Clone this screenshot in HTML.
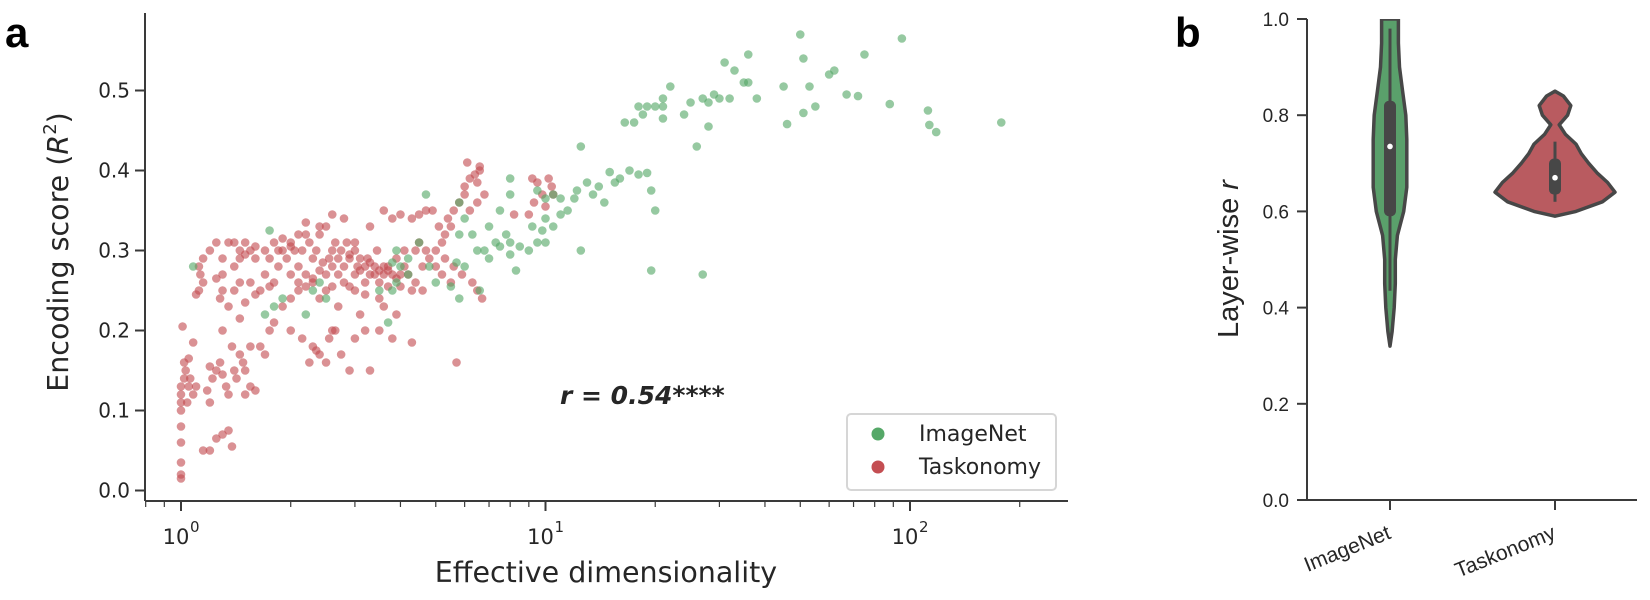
<!DOCTYPE html>
<html><head><meta charset="utf-8">
<style>
html,body{margin:0;padding:0;background:#fff;}
svg{display:block;font-family:"DejaVu Sans","Liberation Sans",sans-serif;}
</style></head>
<body>
<svg id="fig" width="1650" height="600" viewBox="0 0 1650 600" xmlns="http://www.w3.org/2000/svg"></svg>
<script>
// ---------- Panel a data ----------
const imagenetDims = [50,95,36,75,31,33,51,60,62,22,29,35,36,45,67,72,53,27,30,28,32,38,25,19,18,18.5,20,21,21,21,24,16.5,17.5,28,46,51,55,88,112,113,118,178,26,12.5,
17,15,16,18,19,15.5,13,14,12.2,12,11,10,10.5,9.5,13.5,14.5,19.5,20,11.5,11,10,10.5,9.2,9.8,8,8,7.5,7,7.8,8,7.5,6.8,7,8.5,9,9.5,10,8,7.3,8.3,12.5,19.5,27,5.8,6.3,6,5.8,4.7,6.5,6,5.7,6.6,5.8,5.5,5,4.8,4.5,4.2,3.9,3.8,3.9,4,4.2,3.8,3.7,3.5,2.4,2.3,2.5,2.2,1.9,1.75,1.8,1.7,1.08];
const imagenetScores = [0.57,0.565,0.545,0.545,0.535,0.525,0.54,0.52,0.525,0.505,0.495,0.51,0.51,0.505,0.495,0.493,0.505,0.49,0.49,0.485,0.49,0.49,0.485,0.48,0.48,0.47,0.48,0.48,0.465,0.49,0.47,0.46,0.46,0.455,0.458,0.472,0.48,0.483,0.475,0.457,0.448,0.46,0.43,0.43,
0.4,0.398,0.39,0.395,0.397,0.385,0.385,0.38,0.375,0.365,0.365,0.365,0.37,0.375,0.37,0.36,0.375,0.35,0.35,0.345,0.34,0.33,0.33,0.325,0.37,0.39,0.35,0.33,0.32,0.31,0.305,0.3,0.29,0.305,0.3,0.31,0.31,0.295,0.31,0.275,0.3,0.275,0.27,0.32,0.32,0.34,0.36,0.37,0.3,0.28,0.285,0.25,0.24,0.255,0.26,0.28,0.31,0.29,0.3,0.285,0.26,0.28,0.27,0.25,0.21,0.25,0.26,0.25,0.24,0.22,0.24,0.325,0.23,0.22,0.28];
const taskonomyDims = [1,1,1,1,1,1,1,1,1,1.02,1.03,1.02,1.01,1.04,1.05,1.06,1.08,1.1,1.05,1.08,1.1,1.12,1.13,1.15,1.12,1.15,1.2,1.25,1.3,1.3,1.28,1.35,1.4,1.4,1.45,1.5,1.55,1.5,1.6,1.35,1.15,1.2,1.25,1.3,1.35,1.38,1.2,1.22,1.25,1.3,1.33,1.35,1.4,1.45,1.48,1.5,1.28,1.42,1.5,1.55,1.6,1.38,1.45,1.55,1.65,1.3,1.2,1.18,
1.7,1.75,1.8,1.85,1.9,1.95,2.0,2.05,2.1,2.15,2.2,2.25,2.3,2.35,2.4,2.5,2.6,2.7,2.8,2.9,3.0,3.1,3.2,3.3,3.4,3.5,3.6,3.7,3.8,3.9,4.0,4.1,4.2,4.4,4.6,4.8,5.0,5.2,5.5,5.8,6.0,6.2,6.4,6.6,6.5,6.0,5.6,5.3,4.9,4.7,4.5,4.3,4.0,3.8,3.6,3.3,3.0,2.8,2.6,2.4,2.2,2.1,2.0,1.9,1.85,1.8,1.75,1.7,1.65,1.6,1.55,1.5,1.45,1.6,2.0,2.1,2.2,2.3,2.4,2.5,2.6,2.7,2.8,3.0,3.2,3.4,3.6,3.9,4.1,4.4,4.7,5.0,5.2,5.5,4.6,4.3,4.0,3.7,3.5,3.2,3.0,2.9,2.6,2.5,2.3,2.2,2.0,1.9,1.8,2.0,2.15,2.3,2.25,2.35,2.4,2.5,2.55,2.6,2.65,2.75,2.9,3.0,3.2,3.3,3.5,3.8,4.3,5.7,3.9,3.6,3.1,2.7,2.4,2.1,1.75,1.7,4.5,5.1,5.4,6.2,6.5,6.8,6.5,6.7,6.3,5.9,5.6,5.3,9.2,9.5,9.8,10.2,10.5,10.0,9.3,9.0,8.2,10.4,6.6,6.1,1.25,1.3,1.4,1.45,2.9,3.1,3.3,3.5,3.7,2.45,2.55,2.65,2.75,2.85,3.05,3.25,3.45];
const taskonomyScores = [0.015,0.02,0.035,0.06,0.08,0.1,0.11,0.12,0.13,0.14,0.15,0.16,0.205,0.11,0.13,0.14,0.12,0.13,0.165,0.185,0.245,0.25,0.27,0.26,0.28,0.29,0.3,0.265,0.27,0.25,0.24,0.23,0.25,0.31,0.3,0.295,0.3,0.31,0.305,0.31,0.05,0.05,0.065,0.07,0.075,0.055,0.11,0.14,0.15,0.145,0.13,0.12,0.15,0.17,0.16,0.15,0.16,0.14,0.12,0.13,0.125,0.18,0.215,0.18,0.18,0.2,0.155,0.125,
0.3,0.29,0.31,0.3,0.3,0.29,0.31,0.3,0.28,0.3,0.32,0.31,0.29,0.3,0.32,0.33,0.3,0.29,0.28,0.29,0.3,0.29,0.28,0.27,0.28,0.26,0.27,0.28,0.27,0.265,0.27,0.28,0.27,0.26,0.28,0.29,0.3,0.31,0.33,0.36,0.37,0.39,0.395,0.4,0.385,0.38,0.35,0.32,0.35,0.35,0.345,0.34,0.345,0.34,0.35,0.33,0.31,0.34,0.345,0.33,0.335,0.32,0.305,0.315,0.28,0.26,0.255,0.27,0.25,0.245,0.26,0.235,0.26,0.29,0.27,0.26,0.27,0.265,0.275,0.27,0.28,0.27,0.26,0.27,0.26,0.27,0.28,0.29,0.3,0.3,0.3,0.28,0.27,0.26,0.25,0.25,0.255,0.255,0.24,0.245,0.25,0.255,0.255,0.25,0.26,0.255,0.24,0.23,0.21,0.2,0.19,0.18,0.16,0.175,0.17,0.16,0.19,0.2,0.2,0.17,0.15,0.19,0.2,0.15,0.2,0.19,0.185,0.16,0.22,0.23,0.22,0.23,0.24,0.25,0.2,0.17,0.31,0.33,0.34,0.35,0.36,0.37,0.25,0.24,0.26,0.27,0.28,0.29,0.39,0.385,0.37,0.39,0.37,0.355,0.36,0.345,0.345,0.38,0.405,0.41,0.31,0.29,0.28,0.29,0.295,0.275,0.285,0.275,0.275,0.285,0.29,0.31,0.3,0.31,0.28,0.29,0.3];
const yTicksA = [0.0,0.1,0.2,0.3,0.4,0.5];
const xDecadesA = [0,1,2];
// ---------- Panel b data ----------
const violinCats = ["ImageNet","Taskonomy"];
const imagenetProfileVals = [0.32,0.35,0.40,0.45,0.50,0.55,0.60,0.65,0.70,0.75,0.80,0.85,0.90,0.95,1.0];
const imagenetProfileW    = [0,2,4,5,5,7,13,16,16,16,15,12,9,8,8];
const taskonomyProfileVals = [0.59,0.60,0.62,0.64,0.66,0.68,0.70,0.72,0.74,0.76,0.78,0.80,0.82,0.84,0.85];
const taskonomyProfileW    = [0,20,45,57,50,40,32,25,20,10,4,12,15,8,0];
const boxQ1 = [0.59,0.635], boxQ3 = [0.83,0.71], boxMedian = [0.735,0.67], whiskLo = [0.435,0.62], whiskHi = [0.98,0.745];
const yTicksB = [0.0,0.2,0.4,0.6,0.8,1.0];
</script>
<script>
const NS="http://www.w3.org/2000/svg";
const svg=document.getElementById('fig');
function mk(tag,attrs,parent){const e=document.createElementNS(NS,tag);for(const k in attrs)e.setAttribute(k,attrs[k]);(parent||svg).appendChild(e);return e;}
const AX="#3a3a3a", TXT="#262626", LIB='"Liberation Sans", Arial, sans-serif';
const ax0=145, ax1=1068, ay0=501, ay1=13;
const xA=d=>181+364.5*Math.log10(d);
const yA=s=>490.5-800*s;
const gA=mk('g',{});


const gPts=mk('g',{},gA);


taskonomyDims.forEach((d,i)=>{const c=mk('circle',{cx:xA(d),cy:yA(taskonomyScores[i]),r:4.3,fill:'#c44e52','fill-opacity':0.62},gPts);

});
imagenetDims.forEach((d,i)=>{const c=mk('circle',{cx:xA(d),cy:yA(imagenetScores[i]),r:4.3,fill:'#55a868','fill-opacity':0.62},gPts);

});
let l=mk('line',{x1:ax0,y1:ay1,x2:ax0,y2:ay0,stroke:AX,'stroke-width':2},gA);


l=mk('line',{x1:ax0,y1:ay0,x2:ax1,y2:ay0,stroke:AX,'stroke-width':2},gA);


yTicksA.forEach(v=>{const y=yA(v);mk('line',{x1:ax0-10,y1:y,x2:ax0,y2:y,stroke:AX,'stroke-width':2},gA);
const t=mk('text',{x:ax0-15,y:y+7,'text-anchor':'end','font-size':20,fill:TXT},gA);t.textContent=v.toFixed(1);

});
xDecadesA.forEach(p=>{const x=xA(Math.pow(10,p));mk('line',{x1:x,y1:ay0,x2:x,y2:ay0+10,stroke:AX,'stroke-width':2},gA);
const t=mk('text',{x:x-5,y:ay0+43,'text-anchor':'middle','font-size':21,fill:TXT},gA);t.textContent='10';


const s=mk('text',{x:x+9,y:ay0+31,'font-size':15,fill:TXT},gA);s.textContent=String(p);

});
for(let p=-1;p<3;p++){for(let m=2;m<10;m++){const x=xA(m*Math.pow(10,p));if(x<ax0||x>ax1)continue;mk('line',{x1:x,y1:ay0,x2:x,y2:ay0+6,stroke:AX,'stroke-width':1.2},gA);}}
let t=mk('text',{x:606,y:582,'text-anchor':'middle','font-size':28.5,fill:TXT},gA);t.textContent='Effective dimensionality';


t=mk('text',{x:0,y:0,'text-anchor':'middle','font-size':28.5,fill:TXT,transform:'translate(68,252) rotate(-90)'},gA);
t.innerHTML='Encoding score (<tspan font-style="italic">R</tspan><tspan font-size="18" dy="-12">2</tspan><tspan dy="12">)</tspan>';


t=mk('text',{x:560,y:404,'font-size':25,'font-weight':'bold','font-style':'italic',fill:TXT},gA);t.textContent='r = 0.54****';


t=mk('text',{x:5,y:47,'font-size':42,'font-weight':'bold',fill:'#000','font-family':LIB},gA);t.textContent='a';


const gL=mk('g',{},gA);


mk('rect',{x:847,y:414,width:209,height:76,rx:4,fill:'#fff','fill-opacity':0.85,stroke:'#d6d6d6','stroke-width':2},gL);
[['ImageNet','#55a868',441],['Taskonomy','#c44e52',474]].forEach(([n,c,y])=>{
mk('circle',{cx:878,cy:y-7,r:6.5,fill:c},gL);
const tt=mk('text',{x:919,y:y,'font-size':22,fill:TXT},gL);tt.textContent=n;

});
// ---- Panel b ----
const bx0=1307,bx1=1637,by0=500,by1=19;
const yB=v=>500-481*v;
const catX=[1390,1555];
const gB=mk('g',{'font-family':LIB});


const cp=mk('clipPath',{id:'clipB'},gB);mk('rect',{x:bx0,y:by1,width:bx1-bx0,height:by0-by1},cp);
const profiles=[[imagenetProfileVals,imagenetProfileW,'#5aa06b'],[taskonomyProfileVals,taskonomyProfileW,'#b95b60']];
profiles.forEach(([vals,ws,col],i)=>{
const cx=catX[i],k=1.0525;
let pts=vals.map((v,j)=>[cx+ws[j]*k,yB(v)]);
let left=vals.map((v,j)=>[cx-ws[j]*k,yB(v)]).reverse();
const all=pts.concat(left);
let d='M'+all.map(p=>p[0].toFixed(1)+','+p[1].toFixed(1)).join(' L')+' Z';
const p=mk('path',{d:d,fill:col,stroke:'#474747','stroke-width':3.5,'stroke-linejoin':'round','clip-path':'url(#clipB)'},gB);


mk('line',{x1:cx,y1:yB(whiskLo[i]),x2:cx,y2:yB(whiskHi[i]),stroke:'#474747','stroke-width':3},gB);
const b=mk('rect',{x:cx-6,y:yB(boxQ3[i]),width:12,height:yB(boxQ1[i])-yB(boxQ3[i]),rx:5,fill:'#474747'},gB);


const m=mk('circle',{cx:cx,cy:yB(boxMedian[i]),r:2.8,fill:'#fff'},gB);


mk('line',{x1:cx,y1:by0,x2:cx,y2:by0+10,stroke:AX,'stroke-width':2},gB);
const tl=mk('text',{x:0,y:0,'text-anchor':'end','font-size':21,fill:TXT,transform:`translate(${cx+2},${by0+38}) rotate(-22)`},gB);tl.textContent=violinCats[i];


});
l=mk('line',{x1:bx0,y1:by1,x2:bx0,y2:by0,stroke:AX,'stroke-width':2},gB);


l=mk('line',{x1:bx0-10,y1:by0,x2:bx1,y2:by0,stroke:AX,'stroke-width':2},gB);


yTicksB.forEach(v=>{const y=yB(v);mk('line',{x1:bx0-10,y1:y,x2:bx0,y2:y,stroke:AX,'stroke-width':2},gB);
const tt=mk('text',{x:bx0-18,y:y+7,'text-anchor':'end','font-size':19,fill:TXT},gB);tt.textContent=v.toFixed(1);

});
t=mk('text',{x:0,y:0,'text-anchor':'middle','font-size':29,fill:TXT,transform:'translate(1238,259) rotate(-90)'},gB);
t.innerHTML='Layer-wise <tspan font-style="italic">r</tspan>';


t=mk('text',{x:1175,y:47,'font-size':42,'font-weight':'bold',fill:'#000'},gB);t.textContent='b';


</script>
</body></html>
